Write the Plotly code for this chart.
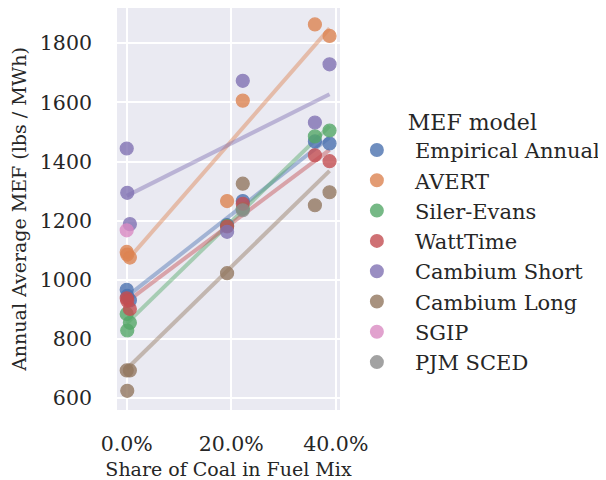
import numpy as np
import plotly.graph_objects as go

regions = ["CAISO", "NYISO", "ISONE", "ERCOT", "PJM", "SPP", "MISO"]
coal_share = [0.000, 0.001, 0.006, 0.192, 0.222, 0.360, 0.388]

models = ["Empirical Annual", "AVERT", "Siler-Evans", "WattTime",
          "Cambium Short", "Cambium Long", "SGIP", "PJM SCED"]

empirical_annual = [966, 945, 930, 1185, 1266, 1468, 1461]
avert = [1094, 1085, 1075, 1266, 1606, 1864, 1825]
siler_evans = [884, 828, 854, 1182, 1240, 1485, 1505]
watttime = [937, 929, 901, 1180, 1257, 1421, 1401]
cambium_short = [1444, 1294, 1188, 1162, 1673, 1532, 1729]
cambium_long = [693, 624, 693, 1022, 1325, 1252, 1296]
sgip = [1167, None, None, None, None, None, None]
pjm_sced = [None, None, None, None, 1235, None, None]

series = [empirical_annual, avert, siler_evans, watttime,
          cambium_short, cambium_long, sgip, pjm_sced]
colors = ["#4c72b0", "#dd8452", "#55a868", "#c44e52",
          "#8172b3", "#937860", "#da8bc3", "#8c8c8c"]

fig = go.Figure()

# regression lines first (drawn beneath points)
for name, vals, col in zip(models, series, colors):
    xs = np.array([x for x, v in zip(coal_share, vals) if v is not None])
    ys = np.array([v for v in vals if v is not None], dtype=float)
    if len(xs) >= 2:
        slope, intercept = np.polyfit(xs, ys, 1)
        lx = np.array([xs.min(), xs.max()])
        fig.add_trace(go.Scatter(
            x=lx, y=intercept + slope * lx, mode="lines",
            line=dict(color=col, width=4), opacity=0.45,
            legendgroup=name, showlegend=False, hoverinfo="skip"))

for name, vals, col in zip(models, series, colors):
    xs = [x for x, v in zip(coal_share, vals) if v is not None]
    ys = [v for v in vals if v is not None]
    fig.add_trace(go.Scatter(
        x=xs, y=ys, mode="markers", name=name, legendgroup=name,
        marker=dict(color=col, size=13, opacity=0.8,
                    line=dict(color=col, width=1.2))))

fig.update_layout(
    width=598, height=472,
    margin=dict(l=109, r=260, t=0, b=70),
    plot_bgcolor="#eaeaf2", paper_bgcolor="white",
    font=dict(family="DejaVu Serif", color="#262626", size=19),
    showlegend=True,
    legend=dict(
        title=dict(text="MEF model", font=dict(size=22), side="top center"),
        x=0.995, xanchor="left", y=0.768, yanchor="top",
        font=dict(size=21), bgcolor="rgba(0,0,0,0)",
        tracegroupgap=0, itemsizing="constant", itemwidth=66),
)
fig.update_xaxes(
    range=[-0.0186, 0.408], tickvals=[0, 0.2, 0.4], tickformat=".1%",
    showgrid=True, gridcolor="white", gridwidth=2, zeroline=False,
    showline=False, ticks="", ticklabelstandoff=19, automargin=False,
    tickfont=dict(size=20.5),
    title=dict(text="Share of Coal in Fuel Mix", font=dict(size=19), standoff=8))
fig.update_yaxes(
    range=[559, 1919.5], tickvals=[600, 800, 1000, 1200, 1400, 1600, 1800],
    showgrid=True, gridcolor="white", gridwidth=2, zeroline=False,
    showline=False, ticks="", ticklabelstandoff=24, automargin=False,
    tickfont=dict(size=20.5),
    title=dict(text="Annual Average MEF (lbs / MWh)", font=dict(size=19), standoff=8))

fig.write_html("out.html")
